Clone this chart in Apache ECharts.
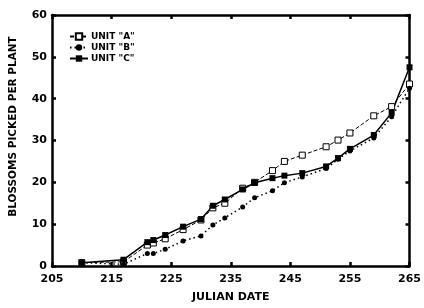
<!DOCTYPE html>
<html><head><meta charset="utf-8">
<script src="https://cdn.jsdelivr.net/npm/echarts@6/dist/echarts.min.js"></script>
<style>html,body{margin:0;padding:0;background:#fff}#c{width:424px;height:308px}</style>
</head><body><div id="c"></div>
<script>
const days = [210, 217, 221, 222, 224, 227, 230, 232, 234, 237, 239, 242, 244, 247, 251, 253, 255, 259, 262, 265];
const unitA = [0.8, 1.0, 5.0, 5.5, 6.5, 8.7, 11.0, 13.9, 15.0, 18.6, 20.0, 22.8, 25.0, 26.5, 28.5, 30.1, 31.8, 35.9, 38.1, 43.5];
const unitB = [0.8, 0.4, 3.0, 3.0, 4.0, 6.0, 7.2, 9.8, 11.5, 14.1, 16.3, 18.0, 19.9, 21.3, 23.3, 25.5, 27.5, 30.6, 35.7, 42.5];
const unitC = [0.8, 1.5, 5.7, 6.2, 7.4, 9.4, 11.2, 14.4, 15.9, 18.3, 19.9, 21.0, 21.6, 22.2, 23.8, 25.8, 28.0, 31.3, 36.6, 47.5];
const names = ['UNIT "A"', 'UNIT "B"', 'UNIT "C"'];
const xTitle = 'JULIAN DATE';
const yTitle = 'BLOSSOMS PICKED PER PLANT';

const pair = arr => days.map((d, i) => [d, arr[i]]);
const font = 'DejaVu Sans';
const axisCommon = {
  axisLine: {show: true, onZero: false, lineStyle: {color: '#000', width: 2.5}},
  axisTick: {show: true, inside: true, length: 4, lineStyle: {color: '#000', width: 2.5}},
  splitLine: {show: false}
};
const chart = echarts.init(document.getElementById('c'), null, {renderer: 'canvas'});
chart.setOption({
  animation: false,
  backgroundColor: '#fff',
  textStyle: {fontFamily: font},
  grid: {left: 52, right: 10, top: 15, bottom: 42},
  legend: {
    left: 64, top: 27, orient: 'vertical', itemGap: 2, itemWidth: 18, itemHeight: 8,
    textStyle: {fontFamily: font, fontWeight: 'bold', fontSize: 9, color: '#000', padding: [0,0,0,-2]},
    data: names
  },
  xAxis: [{
    type: 'value', min: 205, max: 265, interval: 10, position: 'bottom',
    name: xTitle, nameLocation: 'middle', nameGap: 26,
    nameTextStyle: {fontFamily: font, fontWeight: 'bold', fontSize: 11, color: '#000'},
    axisLabel: {color: '#000', fontWeight: 'bold', fontSize: 11, margin: 8},
    ...axisCommon
  }, {
    type: 'value', min: 205, max: 265, interval: 10, position: 'top',
    axisLabel: {show: false}, ...axisCommon
  }],
  yAxis: [{
    type: 'value', min: 0, max: 60, interval: 10, position: 'left',
    name: yTitle, nameLocation: 'middle', nameGap: 33, nameRotate: 90,
    nameTextStyle: {fontFamily: font, fontWeight: 'bold', fontSize: 10.5, color: '#000', padding: [0, 0, 0, 28]},
    axisLabel: {color: '#000', fontWeight: 'bold', fontSize: 11, margin: 5},
    ...axisCommon
  }, {
    type: 'value', min: 0, max: 60, interval: 10, position: 'right',
    axisLabel: {show: false}, ...axisCommon
  }],
  series: [
    {name: names[0], type: 'line', data: pair(unitA), symbol: 'rect', symbolSize: 6,
     itemStyle: {color: '#fff', borderColor: '#000', borderWidth: 1},
     lineStyle: {color: '#000', width: 1, type: [4, 2]}},
    {name: names[1], type: 'line', data: pair(unitB), symbol: 'circle', symbolSize: 5,
     itemStyle: {color: '#000', borderColor: '#000', borderWidth: 0},
     lineStyle: {color: '#000', width: 1.5, type: [1.5, 3]}},
    {name: names[2], type: 'line', data: pair(unitC), symbol: 'rect', symbolSize: 6,
     itemStyle: {color: '#000', borderColor: '#000', borderWidth: 0},
     lineStyle: {color: '#000', width: 1.5, type: 'solid'}}
  ]
});
</script></body></html>
